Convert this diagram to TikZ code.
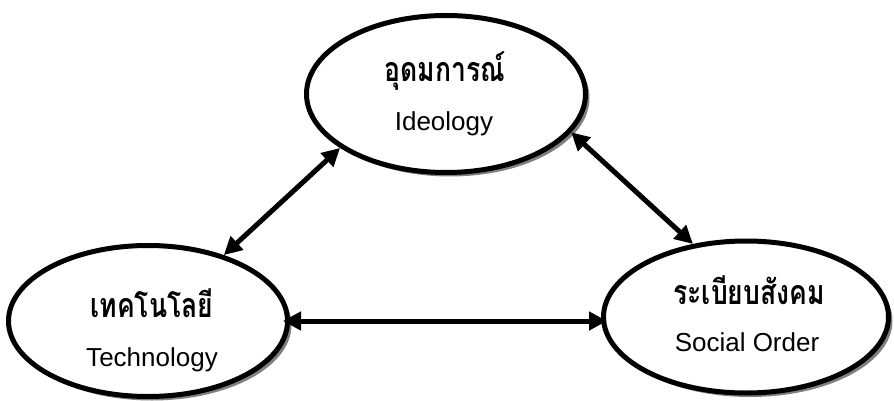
\documentclass[tikz,border=0pt]{standalone}
\usepackage{fontspec}
\setmainfont{Liberation Sans}
\newfontfamily\thai[Script=Thai,FakeStretch=0.78]{Loma}
\usetikzlibrary{shapes.geometric,arrows.meta,shadows}
\begin{document}
\begin{tikzpicture}[x=1pt,y=-1pt,
  oval/.style={ellipse,draw=black,line width=5pt,fill=white,inner sep=0pt,
    drop shadow={shadow xshift=4pt,shadow yshift=-4pt,fill=black!50,opacity=1}},
  link/.style={line width=5pt,{Triangle[length=18pt,width=18pt]}-{Triangle[length=18pt,width=18pt]}},
  th/.style={font=\thai\bfseries\fontsize{34}{38}\selectfont},
  en/.style={font=\fontsize{26}{30}\selectfont}]
\useasboundingbox (0,0) rectangle (894,401);
\node[oval,minimum width=279pt,minimum height=157pt] (top) at (446,94) {};
\node[oval,minimum width=279pt,minimum height=151pt] (left) at (148,321) {};
\node[oval,minimum width=285pt,minimum height=152pt] (right) at (746,317) {};
\node[th] (t1) at (445,71) {อุดมการณ์};
\node[en] (e1) at (444,124) {Ideology};
\node[th] (t2) at (152,303) {เทคโนโลยี};
\node[en] (e2) at (152,360) {Technology};
\node[th] (t3) at (749,290) {ระเบียบสังคม};
\node[en] (e3) at (747,342) {Social Order};
\draw[link] (left.41) -- (top.207);
\draw[link] (top.-17) -- (right.126);
\draw[link,shorten <=-7pt,shorten >=-6pt] (left.east) -- (left.east -| right.west);
\end{tikzpicture}
\end{document}
